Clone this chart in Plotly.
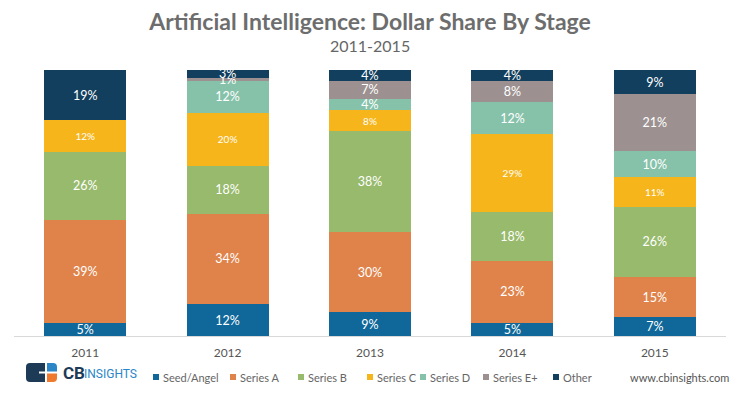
import plotly.graph_objects as go

years = ["2011", "2012", "2013", "2014", "2015"]
stages = ["Seed/Angel", "Series A", "Series B", "Series C", "Series D", "Series E+", "Other"]
seed = [5, 12, 9, 5, 7]
series_a = [39, 34, 30, 23, 15]
series_b = [26, 18, 38, 18, 26]
series_c = [12, 20, 8, 29, 11]
series_d = [0, 12, 4, 12, 10]
series_e = [0, 1, 7, 8, 21]
other = [19, 3, 4, 4, 9]
values = [seed, series_a, series_b, series_c, series_d, series_e, other]
colors = ["#0f6899", "#e0834a", "#97ba6c", "#f6b51b", "#86c2aa", "#9c9190", "#123f5e"]

FONT = "Lato, Open Sans, sans-serif"
W, H = 740, 395
L, R, T, B = 14, 14, 70, 59

def px(x):
    return (x - L) / (W - L - R)

def py(y):
    return (H - B - y) / (H - T - B)

fig = go.Figure()
for name, vals, col in zip(stages, values, colors):
    small = name == "Series C"
    fig.add_trace(go.Bar(
        x=years, y=vals, name=name,
        marker=dict(color=col, line=dict(width=0)),
        text=[f"{v}%" if v > 0 else "" for v in vals],
        textposition="inside", insidetextanchor="middle",
        constraintext="none",
        textfont=dict(color="white", size=10 if small else 12.5, family=FONT),
        hoverinfo="skip",
        showlegend=False,
    ))

shapes = []
annotations = []

# legend drawn as squares + text
leg_sq = [153, 230, 298, 367, 420, 483, 553]
leg_y = 377
for xs, name, col in zip(leg_sq, stages, colors):
    shapes.append(dict(type="rect", xref="paper", yref="paper",
                       x0=px(xs), x1=px(xs + 6), y0=py(leg_y - 3), y1=py(leg_y + 3),
                       fillcolor=col, line=dict(width=0)))
    annotations.append(dict(text=name, xref="paper", yref="paper",
                            x=px(xs + 8), y=py(leg_y), xanchor="left", yanchor="middle",
                            showarrow=False, font=dict(size=11, color="#666666", family=FONT)))

annotations.append(dict(text="www.cbinsights.com", xref="paper", yref="paper",
                        x=px(731), y=py(leg_y), xanchor="right", yanchor="middle",
                        showarrow=False, font=dict(size=11, color="#555555", family=FONT)))

annotations.append(dict(text="2011-2015", xref="paper", yref="paper",
                        x=0.5, y=py(45), xanchor="center", yanchor="middle",
                        showarrow=False, font=dict(size=16, color="#666666", family=FONT)))

# CB Insights logo
shapes.append(dict(type="path", xref="paper", yref="paper",
                   path=f"M {px(30)},{py(363)} L {px(45)},{py(363)} L {px(45)},{py(382)} L {px(30)},{py(382)} Q {px(26)},{py(382)} {px(26)},{py(378)} L {px(26)},{py(367)} Q {px(26)},{py(363)} {px(30)},{py(363)} Z",
                   fillcolor="#1d3b57", line=dict(width=0)))
shapes.append(dict(type="rect", xref="paper", yref="paper",
                   x0=px(39), x1=px(46), y0=py(371.5), y1=py(373.5),
                   fillcolor="white", line=dict(width=0)))
shapes.append(dict(type="path", xref="paper", yref="paper",
                   path=f"M {px(47)},{py(363)} L {px(53)},{py(363)} Q {px(57)},{py(363)} {px(57)},{py(367)} L {px(57)},{py(371.5)} L {px(47)},{py(371.5)} Z",
                   fillcolor="#2a86c7", line=dict(width=0)))
shapes.append(dict(type="path", xref="paper", yref="paper",
                   path=f"M {px(47)},{py(373.5)} L {px(57)},{py(373.5)} L {px(57)},{py(378)} Q {px(57)},{py(382)} {px(53)},{py(382)} L {px(47)},{py(382)} Z",
                   fillcolor="#ef7a2d", line=dict(width=0)))
annotations.append(dict(text="<b>CB</b>", xref="paper", yref="paper",
                        x=px(61), y=py(372.5), xanchor="left", yanchor="middle",
                        showarrow=False, font=dict(size=17, color="#1d3b57", family="Roboto, sans-serif")))
annotations.append(dict(text="INSIGHTS", xref="paper", yref="paper",
                        x=px(82), y=py(373.5), xanchor="left", yanchor="middle",
                        showarrow=False, font=dict(size=12, color="#2a86c7", family="Roboto, sans-serif")))

fig.update_layout(
    width=W, height=H,
    margin=dict(l=L, r=R, t=T, b=B),
    barmode="stack", barnorm="percent", bargap=0.424,
    paper_bgcolor="white", plot_bgcolor="white",
    title=dict(text="<b>Artificial Intelligence: Dollar Share By Stage</b>",
               x=0.5, xanchor="center", y=1 - 22 / H, yanchor="middle",
               font=dict(size=23, color="#6d6d6d", family=FONT)),
    xaxis=dict(showgrid=False, showline=True, linecolor="#d9d9d9", linewidth=1,
               ticks="", tickfont=dict(size=12, color="#555555", family=FONT),
               ticklabelstandoff=6, fixedrange=True),
    yaxis=dict(range=[0, 100], visible=False, showgrid=False, zeroline=False, fixedrange=True),
    shapes=shapes,
    annotations=annotations,
    showlegend=False,
)

fig.write_html("out.html", config={"displayModeBar": False})

with open("out.html", "r", encoding="utf-8") as f:
    html = f.read()
html = html.replace("<head>", "<head><style>html,body{margin:0;padding:0;}</style>", 1)
with open("out.html", "w", encoding="utf-8") as f:
    f.write(html)
